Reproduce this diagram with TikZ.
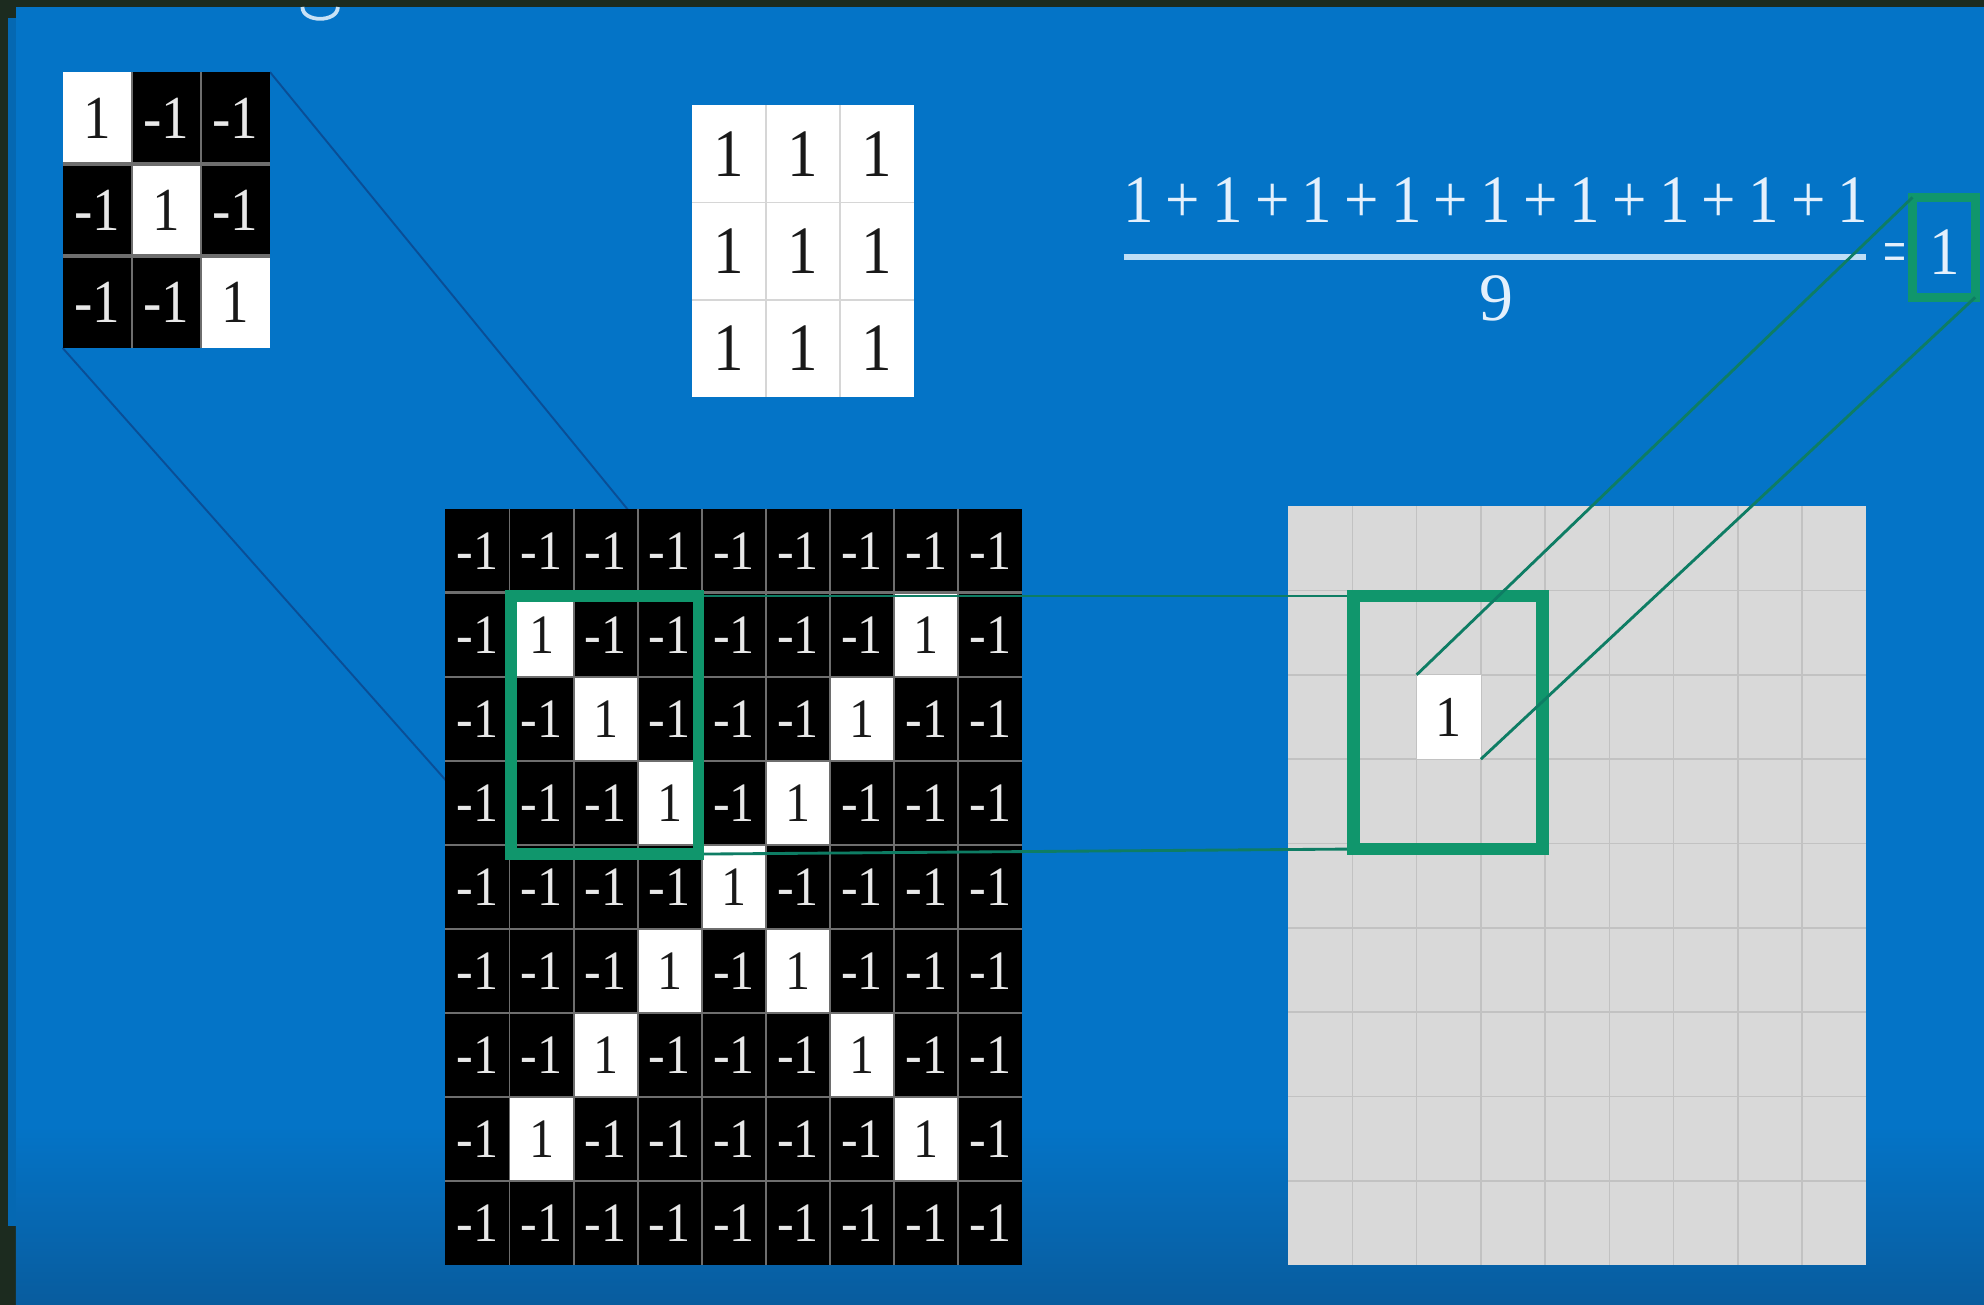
\documentclass[tikz,border=0pt]{standalone}
\usepackage{graphicx}
\usepackage{fontspec}
\setmainfont{Liberation Serif}
\definecolor{frameclr}{RGB}{28,43,31}
\definecolor{bgblue}{RGB}{4,116,199}
\definecolor{bgstrip}{RGB}{5,104,178}
\definecolor{bgbottom}{RGB}{8,92,158}
\definecolor{linkblue}{RGB}{10,78,150}
\definecolor{boxgreen}{RGB}{16,150,108}
\definecolor{linkgreen}{RGB}{14,125,100}
\definecolor{sepgray}{RGB}{110,110,110}
\definecolor{lightsep}{RGB}{214,214,214}
\definecolor{outfill}{RGB}{217,217,217}
\definecolor{outline}{RGB}{194,194,194}
\definecolor{celltext}{RGB}{232,232,232}
\definecolor{darktext}{RGB}{25,25,25}
\definecolor{fractxt}{RGB}{228,240,252}
\definecolor{barclr}{RGB}{190,222,246}
\definecolor{glyphfrag}{RGB}{200,226,246}
\newcommand\myfA{\fontsize{25}{30}\selectfont}
\newcommand\myfB{\fontsize{27.5}{33}\selectfont}
\newcommand\myfC{\fontsize{30.5}{36}\selectfont}
\newcommand\myfD{\fontsize{26}{31}\selectfont}
\newcommand\cnd[1]{\scalebox{0.9}[1]{#1}}
\newcommand\pl{\hspace{6.1pt}+\hspace{6.1pt}}
\begin{document}
\begin{tikzpicture}[x=0.02cm,y=-0.02cm,
  gtext/.style={inner sep=0pt},
  linkb/.style={draw=linkblue,line width=0.03cm},
  linkg/.style={draw=linkgreen,line width=0.045cm},
  gbox/.style={draw=boxgreen,line width=0.18cm},
  ftext/.style={font=\myfC,text=fractxt,inner sep=0pt},
]
\useasboundingbox (0,0) rectangle (1568,1031);
% background
\fill[frameclr] (0,0) rectangle (1568,1031);
\fill[bgblue] (12.6,5.3) rectangle (1568,1031);
\shade[top color=bgblue,bottom color=bgbottom] (12.6,890) rectangle (1568,1031);
\fill[bgstrip] (6.6,14) rectangle (12.6,969);
% fragment of a cut-off letter at the top
\draw[glyphfrag,line width=0.06cm] (239,5.5) .. controls (239,18) and (267,18) .. (267,5.5);

% named corners
\coordinate (fTR) at (213.4,57);
\coordinate (fBL) at (49.5,275);
\coordinate (gTL) at (404,471);
\coordinate (gTR) at (552,471);
\coordinate (gBL) at (404,675);
\coordinate (gBR) at (552,675);
\coordinate (oTL) at (1069.5,471);
\coordinate (oBR) at (1219,671);
\coordinate (oBL) at (1069.5,671);
\coordinate (cTL) at (1119.56,533.33);
\coordinate (cBR) at (1170.33,600);
\coordinate (eTL) at (1511.5,156);
\coordinate (eBR) at (1561,235);

% blue connectors (under the grid)
\draw[linkb] (fTR) -- (gTR);
\draw[linkb] (fBL) -- (gBL);

% small filter
\foreach \rowvals [count=\ri from 0] in {{1,-1,-1},{-1,1,-1},{-1,-1,1}}{
  \foreach \v [count=\ci from 0] in \rowvals {
    \pgfmathsetmacro\xa{49.5+\ci*54.63}
    \pgfmathsetmacro\ya{57+\ri*72.67}
    \ifnum\v>0 \def\fc{white}\def\tc{darktext}\else\def\fc{black}\def\tc{celltext}\fi
    \fill[\fc] (\xa,\ya) rectangle ++(54.63,72.67);
    \node[gtext,text=\tc,font=\myfB] (f-\ri-\ci) at (\xa+27.3,\ya+36.3) {\cnd{\v}};
  }
}
\foreach \i in {1,2}{
  \draw[sepgray,line width=0.035cm] (49.5+\i*54.63,57) -- ++(0,218);
  \draw[sepgray,line width=0.05cm] (49.5,57+\i*72.67) -- ++(163.9,0);
}

% middle filter (all ones)
\fill[white] (547,83) rectangle (722,314);
\foreach \i in {1,2}{
  \draw[lightsep,line width=0.03cm] (547+\i*58.33,83) -- ++(0,231);
  \draw[lightsep,line width=0.03cm] (547,83+\i*77) -- ++(175,0);
}
\foreach \ri in {0,1,2}{
  \foreach \ci in {0,1,2}{
    \node[gtext,text=darktext,font=\myfC] (m-\ri-\ci) at (547+29.2+\ci*58.33,83+38.5+\ri*77) {\cnd{1}};
  }
}

% big input grid
\foreach \rowvals [count=\ri from 0] in {
  {-1,-1,-1,-1,-1,-1,-1,-1,-1},
  {-1,1,-1,-1,-1,-1,-1,1,-1},
  {-1,-1,1,-1,-1,-1,1,-1,-1},
  {-1,-1,-1,1,-1,1,-1,-1,-1},
  {-1,-1,-1,-1,1,-1,-1,-1,-1},
  {-1,-1,-1,1,-1,1,-1,-1,-1},
  {-1,-1,1,-1,-1,-1,1,-1,-1},
  {-1,1,-1,-1,-1,-1,-1,1,-1},
  {-1,-1,-1,-1,-1,-1,-1,-1,-1}}{
  \foreach \v [count=\ci from 0] in \rowvals {
    \pgfmathsetmacro\xa{352+\ci*50.67}
    \pgfmathsetmacro\ya{402+\ri*66.44}
    \ifnum\v>0 \def\fc{white}\def\tc{darktext}\else\def\fc{black}\def\tc{celltext}\fi
    \fill[\fc] (\xa,\ya) rectangle ++(50.67,66.44);
    \node[gtext,text=\tc,font=\myfA] (x-\ri-\ci) at (\xa+25.33,\ya+33.22) {\cnd{\v}};
  }
}
\foreach \i in {1,...,8}{
  \draw[sepgray,line width=0.03cm] (352+\i*50.67,402) -- ++(0,598);
  \draw[sepgray,line width=0.04cm] (352,402+\i*66.44) -- ++(456,0);
}

% output grid
\fill[outfill] (1018,400) rectangle (1475,1000);
\foreach \i in {1,...,8}{
  \draw[outline,line width=0.025cm] (1018+\i*50.78,400) -- ++(0,600);
  \draw[outline,line width=0.025cm] (1018,400+\i*66.67) -- ++(457,0);
}
\fill[white] (cTL) rectangle (cBR);
\node[gtext,text=darktext,font=\myfD] (out) at (1144.95,566.67) {\cnd{1}};

% green connectors and boxes
\draw[linkg] (gTR) -- (oTL);
\draw[linkg] (gBR) -- (oBL);
\draw[gbox] (gTL) rectangle (gBR);
\draw[gbox,line width=0.2cm] (oTL) rectangle (oBR);

% fraction
\node[ftext,anchor=base] (num) at (1182,176) {\scalebox{0.9}[1]{1\pl 1\pl 1\pl 1\pl 1\pl 1\pl 1\pl 1\pl 1}};
\draw[barclr,line width=0.1cm] (888,203) -- (1475,203);
\node[ftext] (den) at (1183,236) {9};
\node[ftext,anchor=base] (eq) at (1498,217) {\scalebox{0.6}[1]{=}};
\node[ftext,anchor=base] (res) at (1537,217) {\cnd{1}};
\draw[gbox,line width=0.14cm] (eTL) rectangle (eBR);

\draw[linkg] (cTL) -- (eTL);
\draw[linkg] (cBR) -- (eBR);
\end{tikzpicture}
\end{document}
